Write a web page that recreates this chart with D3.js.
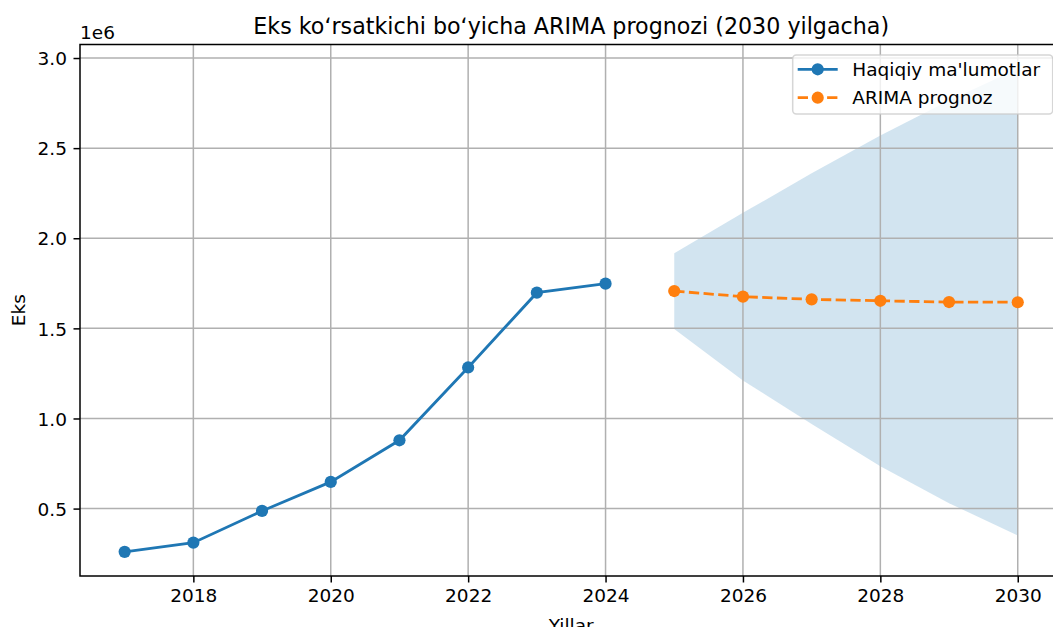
<!DOCTYPE html>
<html>
<head>
<meta charset="utf-8">
<script src="https://cdn.jsdelivr.net/npm/d3@7"></script>
<style>
  body { margin: 0; background: #fff; }
  svg { display: block; font-family: "DejaVu Sans", sans-serif; }
</style>
</head>
<body>
<div id="chart"></div>
<script>
// actual values
const years = [2017, 2018, 2019, 2020, 2021, 2022, 2023, 2024];
const actual = [260000, 311000, 487000, 648000, 879000, 1283000, 1698000, 1748000];

// ARIMA forecast + confidence band
const forecastYears = [2025, 2026, 2027, 2028, 2029, 2030];
const forecast = [1707000, 1676000, 1661000, 1653000, 1646000, 1645000];
const upper = [1917000, 2141000, 2360000, 2570000, 2765000, 2941000];
const lower = [1497000, 1211000, 970000, 735000, 530000, 351000];

const xTicks = [2018, 2020, 2022, 2024, 2026, 2028, 2030];
const yTicks = [500000, 1000000, 1500000, 2000000, 2500000, 3000000];

const titleText = "Eks koʻrsatkichi boʻyicha ARIMA prognozi (2030 yilgacha)";
const seriesNames = ["Haqiqiy ma'lumotlar", "ARIMA prognoz"];

const W = 1053, H = 627;
const plot = { left: 80, right: 1062.4, top: 44.5, bottom: 576 };
const fs = 18.5;
const blue = "#1f77b4", orange = "#ff7f0e";
const markerR = 6.1;

const actualData = years.map((y, i) => ({ x: y, v: actual[i] }));
const fcData = forecastYears.map((y, i) => ({ x: y, v: forecast[i], lo: lower[i], hi: upper[i] }));

// matplotlib-like 5% margins
const allX = years.concat(forecastYears);
const xMin = d3.min(allX), xMax = d3.max(allX);
const xPad = (xMax - xMin) * 0.05;
const yMin = d3.min(actual.concat(lower, forecast));
const yMax = d3.max(actual.concat(upper, forecast));
const yPad = (yMax - yMin) * 0.05;

const x = d3.scaleLinear()
  .domain([xMin - xPad, xMax + xPad])
  .range([plot.left, plot.right]);

const y = d3.scaleLinear()
  .domain([yMin - yPad, yMax + yPad])
  .range([plot.bottom, plot.top]);

const svg = d3.select("#chart")
  .append("svg")
  .attr("width", W)
  .attr("height", H);

svg.append("rect").attr("width", W).attr("height", H).attr("fill", "#fff");

// confidence band (below grid)
const band = d3.area()
  .x(d => x(d.x))
  .y0(d => y(d.lo))
  .y1(d => y(d.hi));

svg.append("path")
  .datum(fcData)
  .attr("d", band)
  .attr("fill", blue)
  .attr("fill-opacity", 0.2);

// grid
svg.append("g")
  .selectAll("line")
  .data(xTicks)
  .enter().append("line")
  .attr("x1", d => x(d)).attr("x2", d => x(d))
  .attr("y1", plot.top).attr("y2", plot.bottom)
  .attr("stroke", "#b0b0b0")
  .attr("stroke-width", 1.5);

svg.append("g")
  .selectAll("line")
  .data(yTicks)
  .enter().append("line")
  .attr("x1", plot.left).attr("x2", plot.right)
  .attr("y1", d => y(d)).attr("y2", d => y(d))
  .attr("stroke", "#b0b0b0")
  .attr("stroke-width", 1.5);

// lines
const line = d3.line().x(d => x(d.x)).y(d => y(d.v));

svg.append("path")
  .datum(actualData)
  .attr("d", line)
  .attr("fill", "none")
  .attr("stroke", blue)
  .attr("stroke-width", 2.8);

svg.append("g")
  .selectAll("circle")
  .data(actualData)
  .enter().append("circle")
  .attr("cx", d => x(d.x))
  .attr("cy", d => y(d.v))
  .attr("r", markerR)
  .attr("fill", blue);

svg.append("path")
  .datum(fcData)
  .attr("d", line)
  .attr("fill", "none")
  .attr("stroke", orange)
  .attr("stroke-width", 2.8)
  .attr("stroke-dasharray", "10.3,4.4");

svg.append("g")
  .selectAll("circle")
  .data(fcData)
  .enter().append("circle")
  .attr("cx", d => x(d.x))
  .attr("cy", d => y(d.v))
  .attr("r", markerR)
  .attr("fill", orange);

// spines
svg.append("rect")
  .attr("x", plot.left).attr("y", plot.top)
  .attr("width", plot.right - plot.left)
  .attr("height", plot.bottom - plot.top)
  .attr("fill", "none")
  .attr("stroke", "#000")
  .attr("stroke-width", 1.5);

// axes
const xAxis = svg.append("g")
  .attr("transform", `translate(0,${plot.bottom})`)
  .call(d3.axisBottom(x).tickValues(xTicks).tickFormat(d3.format("d"))
    .tickSizeInner(6.5).tickSizeOuter(0).tickPadding(6.5));

const yAxis = svg.append("g")
  .attr("transform", `translate(${plot.left},0)`)
  .call(d3.axisLeft(y).tickValues(yTicks).tickFormat(d => d3.format(".1f")(d / 1e6))
    .tickSizeInner(6.5).tickSizeOuter(0).tickPadding(6.5));

[xAxis, yAxis].forEach(g => {
  g.select(".domain").remove();
  g.selectAll(".tick line").attr("stroke", "#000").attr("stroke-width", 1.5);
  g.selectAll(".tick text")
    .attr("fill", "#000")
    .style("font-size", fs + "px")
    .style("font-family", "DejaVu Sans");
});
yAxis.selectAll(".tick text").attr("dy", "0.36em");

// offset text
svg.append("text")
  .attr("x", plot.left)
  .attr("y", 39.3)
  .style("font-size", fs + "px")
  .text("1e6");

// title and labels
svg.append("text")
  .attr("x", (plot.left + plot.right) / 2)
  .attr("y", 33.5)
  .attr("text-anchor", "middle")
  .style("font-size", "22.2px")
  .text(titleText);

// x label sits partly below the bottom edge, as in the source figure
svg.append("text")
  .attr("x", (plot.left + plot.right) / 2)
  .attr("y", 632)
  .attr("text-anchor", "middle")
  .style("font-size", fs + "px")
  .text("Yillar");

svg.append("text")
  .attr("transform", `translate(24.5,${(plot.top + plot.bottom) / 2}) rotate(-90)`)
  .attr("text-anchor", "middle")
  .style("font-size", fs + "px")
  .text("Eks");

// legend
const legend = svg.append("g");
legend.append("rect")
  .attr("x", 792.7).attr("y", 55)
  .attr("width", 260).attr("height", 59)
  .attr("rx", 3.7)
  .attr("fill", "#fff").attr("fill-opacity", 0.8)
  .attr("stroke", "#cccccc").attr("stroke-opacity", 0.8)
  .attr("stroke-width", 1.5);

const legendItems = [
  { name: seriesNames[0], color: blue, dash: null },
  { name: seriesNames[1], color: orange, dash: "10.3,4.4" }
];

legendItems.forEach((d, i) => {
  const cy = 69.3 + i * 28.4;
  legend.append("line")
    .attr("x1", 797.7).attr("x2", 837.7)
    .attr("y1", cy).attr("y2", cy)
    .attr("stroke", d.color)
    .attr("stroke-width", 2.8)
    .attr("stroke-dasharray", d.dash);
  legend.append("circle")
    .attr("cx", 817.7).attr("cy", cy)
    .attr("r", markerR)
    .attr("fill", d.color);
  legend.append("text")
    .attr("x", 852.3).attr("y", cy + 6.7)
    .style("font-size", fs + "px")
    .text(d.name);
});
</script>
</body>
</html>
